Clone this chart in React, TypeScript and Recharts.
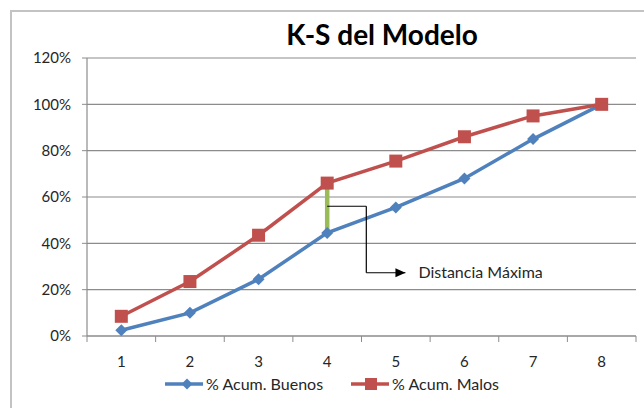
import React from 'react';
import {
  CartesianGrid,
  Legend,
  Line,
  LineChart,
  ReferenceDot,
  ReferenceLine,
  XAxis,
  YAxis,
} from 'recharts';

// x categories and cumulative % per decile
const CATEGORIES = ['1', '2', '3', '4', '5', '6', '7', '8'];
const BUENOS = [2.5, 10, 24.5, 44.5, 55.5, 68, 85, 100];
const MALOS = [8.5, 23.5, 43.5, 66, 75.5, 86, 95, 100];
const Y_TICKS = [0, 20, 40, 60, 80, 100, 120];

const SERIES_NAMES = { buenos: '% Acum. Buenos', malos: '% Acum. Malos' };

// where the max gap sits, and the callout path (data units)
const KS_INDEX = 3;
const CALLOUT_Y = 56;
const CALLOUT_ELBOW_X = 4.57;
const CALLOUT_BOTTOM_Y = 27.3;
const CALLOUT_TIP_X = 5.14;
const CALLOUT_TEXT = 'Distancia Máxima';

const BLUE = '#4f81bd';
const RED = '#c0504d';
const GREEN = '#9bbb59';
const GRID = '#8c8c8c';
const TEXT = '#262626';
const FONT = 'Lato, "Noto Sans", sans-serif';

const WIDTH = 644;
const HEIGHT = 408;
const MARGIN = { top: 58, right: 8, left: 0, bottom: 12 };
const Y_AXIS_W = 87;
const HALF_BAND = (WIDTH - MARGIN.left - MARGIN.right - Y_AXIS_W) / CATEGORIES.length / 2;

const data = CATEGORIES.map((c, i) => ({
  x: Number(c),
  buenos: BUENOS[i],
  malos: MALOS[i],
}));

function Diamond({ cx, cy, size = 6 }: { cx: number; cy: number; size?: number }) {
  return (
    <polygon
      points={`${cx},${cy - size} ${cx + size},${cy} ${cx},${cy + size} ${cx - size},${cy}`}
      fill={BLUE}
    />
  );
}

function Square({ cx, cy, size = 6.5 }: { cx: number; cy: number; size?: number }) {
  return <rect x={cx - size} y={cy - size} width={size * 2} height={size * 2} fill={RED} />;
}

function XTick(props: any) {
  const { x, y, payload, index } = props;
  return (
    <g>
      {index === 0 ? (
        <line x1={x - HALF_BAND} y1={y} x2={x - HALF_BAND} y2={y + 6} stroke={GRID} />
      ) : null}
      <line x1={x + HALF_BAND} y1={y} x2={x + HALF_BAND} y2={y + 6} stroke={GRID} />
      <text x={x} y={y + 31} textAnchor="middle" fontSize={15} fill={TEXT} fontFamily={FONT}>
        {payload.value}
      </text>
    </g>
  );
}

function LegendContent() {
  const items = [
    { key: 'buenos', color: BLUE, label: SERIES_NAMES.buenos },
    { key: 'malos', color: RED, label: SERIES_NAMES.malos },
  ];
  return (
    <div style={{ display: 'flex', alignItems: 'center', gap: 28, fontFamily: FONT, fontSize: 16, color: TEXT }}>
      {items.map((it) => (
        <div key={it.key} style={{ display: 'flex', alignItems: 'center', gap: 3 }}>
          <svg width={38} height={16}>
            <line x1={0} y1={8} x2={38} y2={8} stroke={it.color} strokeWidth={3.5} />
            {it.key === 'buenos' ? <Diamond cx={22} cy={8} size={5.5} /> : <Square cx={20} cy={8} size={6} />}
          </svg>
          <span>{it.label}</span>
        </div>
      ))}
    </div>
  );
}

export default function App() {
  return (
    <div
      style={{
        position: 'absolute',
        left: 0,
        top: 0,
        width: WIDTH,
        height: HEIGHT,
        overflow: 'hidden',
        background: '#fff',
      }}
    >
      <div
        style={{
          position: 'absolute',
          left: 10,
          top: 10,
          width: 720,
          height: 500,
          border: '2px solid #c3c3c3',
        }}
      />
      <div
        style={{
          position: 'absolute',
          left: 182,
          top: 20,
          width: 400,
          textAlign: 'center',
          fontFamily: FONT,
          fontWeight: 700,
          fontSize: 28,
          lineHeight: '28px',
          color: '#000',
        }}
      >
        K-S del Modelo
      </div>
      <div style={{ position: 'absolute', left: 0, top: 0 }}>
        <LineChart width={WIDTH} height={HEIGHT} data={data} margin={MARGIN}>
          <CartesianGrid vertical={false} stroke={GRID} strokeWidth={1.2} />
          <XAxis
            dataKey="x"
            type="number"
            domain={[0.5, CATEGORIES.length + 0.5]}
            ticks={CATEGORIES.map(Number)}
            tick={<XTick />}
            tickLine={false}
            tickSize={0}
            tickMargin={0}
            height={38}
            axisLine={{ stroke: GRID, strokeWidth: 1.2 }}
          />
          <YAxis
            domain={[0, 120]}
            ticks={Y_TICKS}
            width={Y_AXIS_W}
            tickFormatter={(v) => `${v}%`}
            tickSize={5}
            tickMargin={11}
            tick={{ fontSize: 15, fill: TEXT, fontFamily: FONT }}
            tickLine={{ stroke: GRID }}
            axisLine={{ stroke: GRID, strokeWidth: 1.2 }}
          />
          <Legend
            verticalAlign="bottom"
            height={22}
            wrapperStyle={{ left: 165, width: 440 }}
            content={<LegendContent />}
          />
          <Line
            type="linear"
            dataKey="buenos"
            name={SERIES_NAMES.buenos}
            stroke={BLUE}
            strokeWidth={3.5}
            dot={(p: any) => <Diamond key={`b${p.index}`} cx={p.cx} cy={p.cy} />}
            isAnimationActive={false}
          />
          <Line
            type="linear"
            dataKey="malos"
            name={SERIES_NAMES.malos}
            stroke={RED}
            strokeWidth={3.5}
            dot={(p: any) => <Square key={`m${p.index}`} cx={p.cx} cy={p.cy} />}
            isAnimationActive={false}
          />
          <ReferenceLine
            segment={[
              { x: data[KS_INDEX].x, y: BUENOS[KS_INDEX] },
              { x: data[KS_INDEX].x, y: MALOS[KS_INDEX] },
            ]}
            stroke={GREEN}
            strokeWidth={4.5}
          />
          <ReferenceLine
            segment={[
              { x: data[KS_INDEX].x, y: CALLOUT_Y },
              { x: CALLOUT_ELBOW_X, y: CALLOUT_Y },
            ]}
            stroke="#000"
            strokeWidth={1.2}
          />
          <ReferenceLine
            segment={[
              { x: CALLOUT_ELBOW_X, y: CALLOUT_Y },
              { x: CALLOUT_ELBOW_X, y: CALLOUT_BOTTOM_Y },
            ]}
            stroke="#000"
            strokeWidth={1.2}
          />
          <ReferenceLine
            segment={[
              { x: CALLOUT_ELBOW_X, y: CALLOUT_BOTTOM_Y },
              { x: CALLOUT_TIP_X, y: CALLOUT_BOTTOM_Y },
            ]}
            stroke="#000"
            strokeWidth={1.2}
          />
          <ReferenceDot
            x={CALLOUT_TIP_X}
            y={CALLOUT_BOTTOM_Y}
            shape={(p: any) => (
              <g>
                <polygon
                  points={`${p.cx},${p.cy} ${p.cx - 10},${p.cy - 4.5} ${p.cx - 10},${p.cy + 4.5}`}
                  fill="#000"
                />
                <text
                  x={p.cx + 13}
                  y={p.cy}
                  dy="0.35em"
                  fontSize={16}
                  fill={TEXT}
                  fontFamily={FONT}
                >
                  {CALLOUT_TEXT}
                </text>
              </g>
            )}
          />
        </LineChart>
      </div>
    </div>
  );
}
